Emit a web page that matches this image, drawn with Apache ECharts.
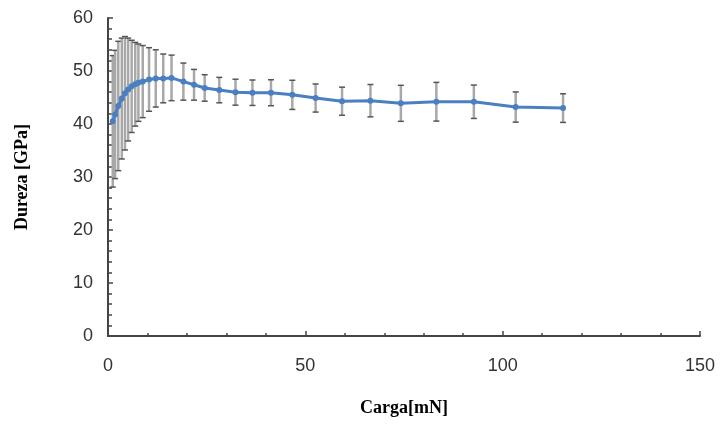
<!DOCTYPE html>
<html>
<head>
<meta charset="utf-8">
<script src="https://cdn.jsdelivr.net/npm/echarts@6/dist/echarts.min.js"></script>
<style>
  html, body { margin: 0; padding: 0; background: #fff; }
  #chart { width: 721px; height: 425px; }
</style>
</head>
<body>
<div id="chart"></div>
<script>
// Carga aplicada [mN]
const carga = [1.2, 1.8, 2.6, 3.5, 4.3, 5.1, 6.0, 6.9, 7.7, 8.8, 10.4, 12.1, 14.0, 16.1, 19.1,
               21.8, 24.5, 28.2, 32.3, 36.6, 41.3, 46.7, 52.6, 59.3, 66.5, 74.2, 83.2, 92.7, 103.3, 115.3];
// Dureza media [GPa]
const dureza = [40.5, 41.8, 43.4, 44.8, 45.8, 46.5, 47.1, 47.5, 47.8, 48.0, 48.4, 48.6, 48.6, 48.7, 48.0,
                47.4, 46.8, 46.4, 46.0, 45.9, 45.9, 45.5, 44.9, 44.3, 44.4, 43.9, 44.2, 44.2, 43.2, 43.0];
// Desviación estándar [GPa]
const desvio = [12.4, 12.1, 12.2, 11.4, 10.7, 9.7, 8.7, 7.9, 7.3, 6.8, 6.0, 5.4, 4.6, 4.3, 3.5,
                2.9, 2.5, 2.4, 2.45, 2.4, 2.45, 2.75, 2.65, 2.65, 3.05, 3.4, 3.65, 3.15, 2.85, 2.7];
const yTicks = [0, 10, 20, 30, 40, 50, 60];
const xTicks = [0, 50, 100, 150];

const puntos = carga.map((c, i) => [c, dureza[i]]);
const barras = carga.map((c, i) => [c, dureza[i] - desvio[i], dureza[i] + desvio[i]]);

const chart = echarts.init(document.getElementById('chart'));
chart.setOption({
  animation: false,
  grid: { left: 108, top: 18, right: 21, bottom: 89 },
  xAxis: {
    type: 'value',
    min: xTicks[0], max: xTicks[xTicks.length - 1], interval: 50,
    name: 'Carga[mN]',
    nameLocation: 'middle', nameGap: 63,
    nameTextStyle: { fontFamily: 'Liberation Serif', fontWeight: 'bold', fontSize: 18, color: '#000' },
    axisLine: { lineStyle: { color: '#444', width: 2 } },
    axisTick: { inside: true, length: 5, lineStyle: { color: '#444', width: 1.5 } },
    minorTick: { show: true, splitNumber: 5, length: 3, lineStyle: { color: '#444', width: 1.5 } },
    axisLabel: { margin: 21, fontFamily: 'Liberation Sans', fontSize: 18, color: '#333' },
    splitLine: { show: false }
  },
  yAxis: {
    type: 'value',
    min: yTicks[0], max: yTicks[yTicks.length - 1], interval: 10,
    name: 'Dureza [GPa]',
    nameLocation: 'middle', nameGap: 77,
    nameTextStyle: { fontFamily: 'Liberation Serif', fontWeight: 'bold', fontSize: 18, color: '#000' },
    axisLine: { show: true, lineStyle: { color: '#444', width: 2 } },
    axisTick: { show: true, inside: true, length: 5, lineStyle: { color: '#444', width: 1.5 } },
    minorTick: { show: true, splitNumber: 5, length: 4, lineStyle: { color: '#444', width: 1.5 } },
    axisLabel: { margin: 15, fontFamily: 'Liberation Sans', fontSize: 18, color: '#333' },
    splitLine: { show: false }
  },
  series: [
    {
      type: 'custom',
      data: barras,
      z: 1,
      renderItem: function (params, api) {
        const x = api.value(0);
        const lo = api.coord([x, api.value(1)]);
        const hi = api.coord([x, api.value(2)]);
        const cap = 3;
        return {
          type: 'group',
          children: [
            { type: 'line', shape: { x1: lo[0], y1: lo[1], x2: hi[0], y2: hi[1] },
              style: { stroke: '#a8a8a8', lineWidth: 2.5 } },
            { type: 'line', shape: { x1: lo[0] - cap, y1: lo[1], x2: lo[0] + cap, y2: lo[1] },
              style: { stroke: '#555', lineWidth: 1.5 } },
            { type: 'line', shape: { x1: hi[0] - cap, y1: hi[1], x2: hi[0] + cap, y2: hi[1] },
              style: { stroke: '#555', lineWidth: 1.5 } }
          ]
        };
      }
    },
    {
      type: 'line',
      data: puntos,
      z: 3,
      symbol: 'circle',
      symbolSize: 6,
      lineStyle: { color: '#4a7fc4', width: 3 },
      itemStyle: { color: '#4a7fc4' }
    }
  ]
});
</script>
</body>
</html>
